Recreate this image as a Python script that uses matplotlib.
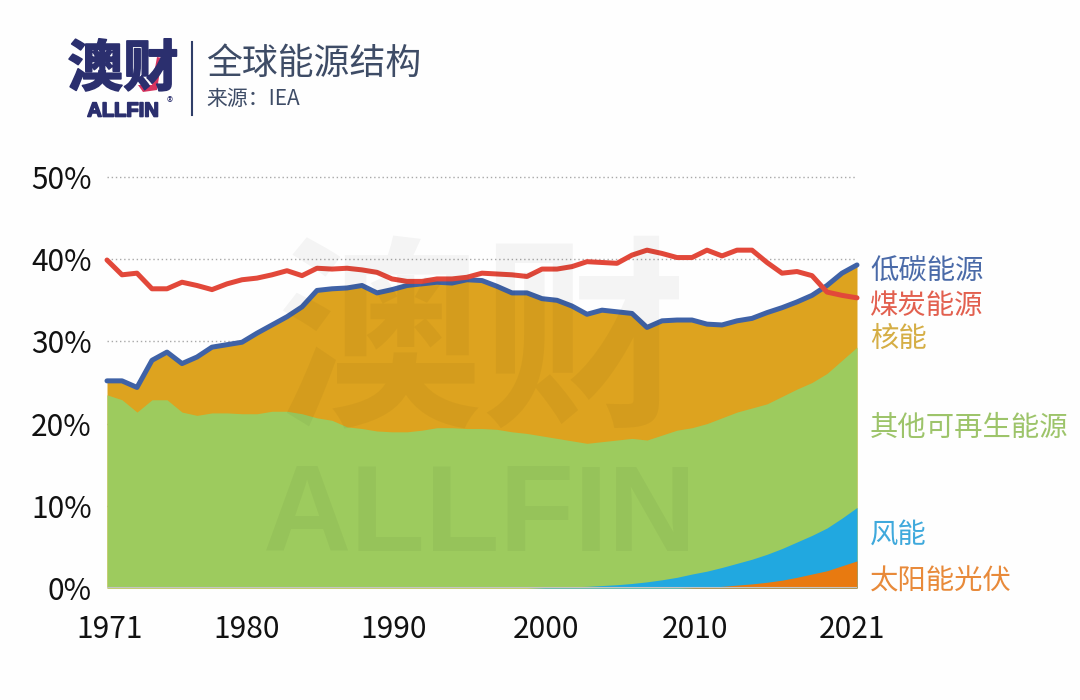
import matplotlib
matplotlib.use("Agg")
import matplotlib.pyplot as plt
import matplotlib.patheffects as pe
from matplotlib.patches import Polygon

plt.rcParams['font.family'] = ['Noto Sans CJK SC', 'DejaVu Sans']

# 数据：各曲线的累计高度（%），读自原图
years = list(range(1971, 2022))
coal = [39.9, 38.1, 38.3, 36.4, 36.4, 37.2, 36.8, 36.3, 37.0, 37.5,
        37.7, 38.1, 38.6, 38.0, 38.9, 38.8, 38.9, 38.7, 38.4, 37.6,
        37.3, 37.3, 37.6, 37.6, 37.8, 38.3, 38.2, 38.1, 37.9, 38.8,
        38.8, 39.1, 39.7, 39.6, 39.5, 40.5, 41.1, 40.7, 40.2, 40.2,
        41.1, 40.4, 41.1, 41.1, 39.6, 38.3, 38.5, 38.0, 36.0, 35.6, 35.3]
low_carbon = [25.2, 25.2, 24.4, 27.7, 28.7, 27.3, 28.1, 29.3, 29.6, 29.9,
              31.0, 32.0, 33.0, 34.2, 36.2, 36.4, 36.5, 36.8, 35.9, 36.3,
              36.8, 37.0, 37.2, 37.1, 37.5, 37.4, 36.7, 35.9, 35.9, 35.2,
              35.0, 34.3, 33.3, 33.8, 33.6, 33.4, 31.7, 32.5, 32.6, 32.6,
              32.1, 32.0, 32.5, 32.8, 33.5, 34.1, 34.8, 35.6, 36.8, 38.3, 39.3]
other_renew = [23.5, 22.9, 21.4, 22.9, 22.9, 21.4, 21.0, 21.3, 21.3, 21.2,
               21.2, 21.5, 21.5, 21.2, 20.7, 20.4, 19.6, 19.4, 19.1, 19.0,
               19.0, 19.2, 19.5, 19.5, 19.4, 19.4, 19.3, 19.0, 18.8, 18.5,
               18.2, 17.9, 17.6, 17.8, 18.0, 18.2, 18.0, 18.6, 19.2, 19.5,
               20.0, 20.7, 21.4, 21.9, 22.4, 23.3, 24.2, 25.0, 26.1, 27.7, 29.3]
wind = [0] * 29 + [0.05, 0.1, 0.15, 0.2, 0.3, 0.4, 0.55, 0.75, 1.0, 1.3, 1.7,
                   2.05, 2.5, 3.0, 3.5, 4.1, 4.8, 5.6, 6.4, 7.3, 8.5, 9.8]
solar = [0] * 39 + [0.05, 0.1, 0.2, 0.35, 0.5, 0.7, 0.95, 1.3, 1.7, 2.1, 2.7, 3.3]

ytick_vals = [0, 10, 20, 30, 40, 50]
ytick_labels = ['0%', '10%', '20%', '30%', '40%', '50%']
xtick_vals = [1971.2, 1980.3, 1990.1, 2000.3, 2010.2, 2020.7]
xtick_labels = ['1971', '1980', '1990', '2000', '2010', '2021']

W, H = 1080, 700
fig = plt.figure(figsize=(W / 100, H / 100), dpi=100, facecolor='#fefefe')
ax = fig.add_axes([107 / W, 1 - 588 / H, 750 / W, 411 / H])
ax.set_facecolor('none')

# 面积图
ax.fill_between(years, 0, low_carbon, color='#DDA31F', lw=0, zorder=2)
ax.fill_between(years, 0, other_renew, color='#9DCB5E', lw=0, zorder=3)
ax.fill_between(years, 0, wind, color='#21A8E0', lw=0, zorder=4)
ax.fill_between(years, 0, solar, color='#E87A10', lw=0, zorder=5)

# 折线
ax.plot(years, low_carbon, color='#3F62A6', lw=3.6, solid_joinstyle='round',
        solid_capstyle='round', clip_on=False, zorder=7)
ax.plot(years, coal, color='#E2483A', lw=3.6, solid_joinstyle='round',
        solid_capstyle='round', clip_on=False, zorder=8)

ax.set_xlim(1971, 2021)
ax.set_ylim(0, 50)
for v in ytick_vals[1:]:
    ax.axhline(v, color='#a8a8a8', lw=1, ls=(0, (1, 2)), zorder=1, clip_on=False)
ax.axhline(0, color='#c4c4c4', lw=1.5, zorder=6)

ax.set_xticks(xtick_vals, xtick_labels)
ax.set_yticks(ytick_vals, ytick_labels)
ax.tick_params(axis='x', length=0, pad=19, labelsize=21.5, labelcolor='#111111')
ax.tick_params(axis='y', length=0, pad=11, labelsize=21.5, labelcolor='#111111')
for s in ax.spines.values():
    s.set_visible(False)


def px_text(x, y, s, **kw):
    # 按像素坐标放文字
    kw.setdefault('va', 'center')
    return fig.text(x / W, 1 - y / H, s, **kw)


# 水印
px_text(482, 350, '澳财', fontsize=148, fontweight='bold', color='#000000',
        alpha=0.04, ha='center', zorder=6)
px_text(480, 519, 'ALLFIN', fontsize=88, fontweight='bold', color='#000000', alpha=0.04,
        ha='center', family='Liberation Sans', zorder=6)

# 右侧标签
series_labels = ['低碳能源', '煤炭能源', '核能', '其他可再生能源', '风能', '太阳能光伏']
label_colors = ['#4A6AA8', '#E2604F', '#D5AE45', '#9DC46A', '#3FA9DC', '#E88A3A']
label_y = [272, 306, 339, 428, 535, 582]
for name, c, y in zip(series_labels, label_colors, label_y):
    px_text(870, y, name, fontsize=20.4, color=c, ha='left')

# 标题区
px_text(206, 64, '全球能源结构', fontsize=25.8, color='#3E4C66', ha='left')
px_text(206, 99, '来源：IEA', fontsize=15, color='#3E4C66', ha='left')
fig.add_artist(plt.Line2D([192 / W, 192 / W], [1 - 42 / H, 1 - 115 / H], color='#2F3E68', lw=1.5))

# logo
heavy = [pe.withStroke(linewidth=1.2, foreground='#2B2F6E')]
px_text(123, 70, '澳财', fontsize=40, fontweight='bold', color='#2B2F6E', ha='center',
        path_effects=heavy)
px_text(123, 111, 'ALLFIN', fontsize=14.5, fontweight='bold', color='#2B2F6E', ha='center',
        family='Liberation Sans', path_effects=heavy)
px_text(170, 103, '®', fontsize=9, color='#2B2F6E', ha='center')
accent = [(138, 85), (143, 92), (157, 90), (162, 58), (157, 57), (152, 85)]
fig.add_artist(Polygon([(x / W, 1 - y / H) for x, y in accent], closed=True,
                       transform=fig.transFigure, facecolor='#D8345F', edgecolor='none'))

fig.savefig('out.png', dpi=100, facecolor=fig.get_facecolor())
plt.close()
